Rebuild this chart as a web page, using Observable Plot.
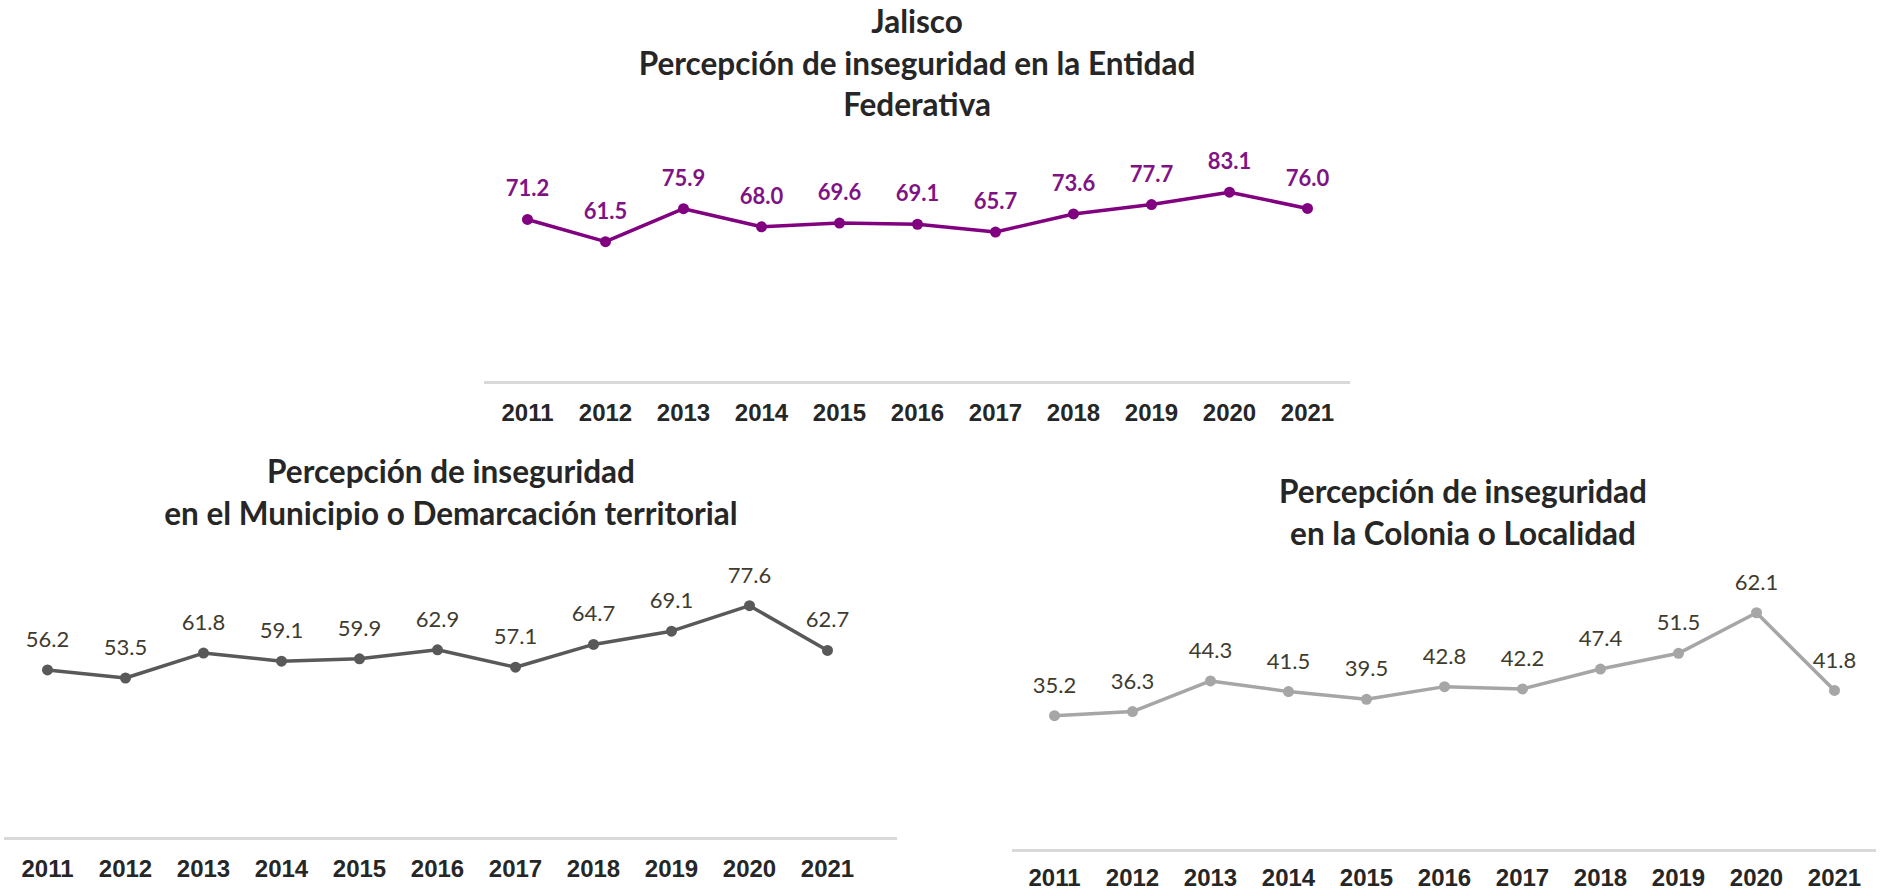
<!DOCTYPE html>
<html><head><meta charset="utf-8">
<script src="https://cdn.jsdelivr.net/npm/d3@7"></script>
<script src="https://cdn.jsdelivr.net/npm/@observablehq/plot@0.6"></script>
<style>
html,body{margin:0;padding:0;background:#fff;}
#root{position:relative;width:1883px;height:892px;overflow:hidden;background:#fff;}
.title{position:absolute;font-family:Lato,"Open Sans",sans-serif;font-weight:700;font-size:31.5px;color:#262626;text-align:center;line-height:41.5px;white-space:nowrap;transform:translateX(-50%);}
.chart{position:absolute;}
.chart svg{overflow:visible;background:transparent;}
</style></head><body><div id="root"></div>
<script>
const years = ["2011","2012","2013","2014","2015","2016","2017","2018","2019","2020","2021"];
const entidad = [71.2, 61.5, 75.9, 68.0, 69.6, 69.1, 65.7, 73.6, 77.7, 83.1, 76.0];
const municipio = [56.2, 53.5, 61.8, 59.1, 59.9, 62.9, 57.1, 64.7, 69.1, 77.6, 62.7];
const colonia = [35.2, 36.3, 44.3, 41.5, 39.5, 42.8, 42.2, 47.4, 51.5, 62.1, 41.8];

const titleTop = ["Jalisco", "Percepción de inseguridad en la Entidad", "Federativa"];
const titleLeft = ["Percepción de inseguridad", "en el Municipio o Demarcación territorial"];
const titleRight = ["Percepción de inseguridad", "en la Colonia o Localidad"];

const root = document.getElementById("root");
const fmt = d3.format(".1f");

function addTitle(lines, cx, top) {
  const d = document.createElement("div");
  d.className = "title";
  d.style.left = cx + "px";
  d.style.top = top + "px";
  d.innerHTML = lines.join("<br>");
  root.appendChild(d);
}

function addChart(cfg) {
  const data = years.map((y, i) => ({year: y, value: cfg.values[i]}));
  const p = Plot.plot({
    width: cfg.width,
    height: cfg.height,
    marginLeft: cfg.ml, marginRight: cfg.mr, marginTop: cfg.mt, marginBottom: cfg.mb,
    style: {background: "transparent", fontFamily: "'Liberation Sans', Arial, sans-serif"},
    x: {type: "point", domain: years, padding: 0.5, range: cfg.xRange},
    y: {domain: [0, cfg.yMax], axis: null},
    marks: [
      Plot.ruleY([0], {stroke: "#d9d9d9", strokeWidth: 3}),
      Plot.axisX({tickSize: 0, tickPadding: cfg.tp, fontSize: 24, fontWeight: "bold",
        fontFamily: "'Liberation Sans', Arial, sans-serif", fill: "#262626", label: null}),
      Plot.line(data, {x: "year", y: "value", stroke: cfg.color, strokeWidth: 3.5}),
      Plot.dot(data, {x: "year", y: "value", fill: cfg.color, r: 5.5}),
      Plot.text(data, {x: "year", y: "value", text: d => fmt(d.value), dy: -30,
        fill: cfg.labelColor, fontSize: 22, fontWeight: cfg.labelWeight,
        fontFamily: "Lato, 'Open Sans', sans-serif"})
    ]
  });
  const wrap = document.createElement("div");
  wrap.className = "chart";
  wrap.style.left = cfg.left + "px";
  wrap.style.top = cfg.top + "px";
  wrap.appendChild(p);
  root.appendChild(wrap);
}

addTitle(titleTop, 917, 1);
addTitle(titleLeft, 451, 451);
addTitle(titleRight, 1463, 471);

addChart({values: entidad, color: "#800080", labelColor: "#7f1385", labelWeight: "bold", tp: 21,
  left: 440, top: 130, width: 960, height: 302, ml: 44, mr: 50, mt: 23, mb: 50, yMax: 100});
addChart({values: municipio, color: "#595959", labelColor: "#3f3b2f", labelWeight: "normal", tp: 21,
  left: 0, top: 545, width: 900, height: 345, ml: 4, mr: 3, mt: 23, mb: 52, yMax: 90, xRange: [4, 870]});
addChart({values: colonia, color: "#a6a6a6", labelColor: "#3f3b2f", labelWeight: "normal", tp: 18,
  left: 1000, top: 555, width: 883, height: 337, ml: 12, mr: 7, mt: 27, mb: 42, yMax: 70});
</script></body></html>
